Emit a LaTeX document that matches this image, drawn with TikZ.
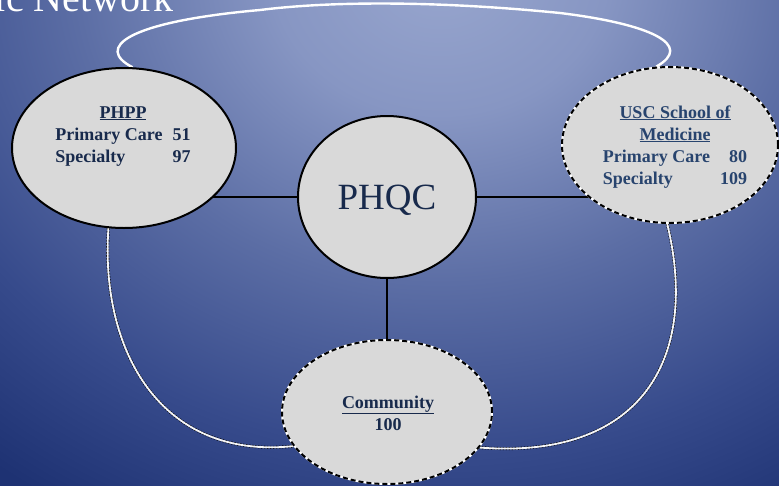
\documentclass[tikz,border=0pt]{standalone}
\usepackage{fontspec}
\setmainfont{Liberation Serif}
\usetikzlibrary{shapes.geometric}
\pgfdeclarelayer{bg}
\pgfdeclarelayer{conn}
\pgfsetlayers{bg,conn,main}
\definecolor{bgA}{RGB}{152,166,206}
\definecolor{bgB}{RGB}{135,150,195}
\definecolor{bgC}{RGB}{92,110,165}
\definecolor{bgD}{RGB}{55,75,140}
\definecolor{bgE}{RGB}{30,50,115}
\definecolor{nodefill}{RGB}{217,217,217}
\definecolor{navy}{RGB}{24,42,76}
\definecolor{slate}{RGB}{40,68,110}
\pgfdeclareradialshading{bgshade}{\pgfpointorigin}{color(0bp)=(bgA); color(4.2bp)=(bgB); color(9.1bp)=(bgC); color(14bp)=(bgD); color(18.2bp)=(bgE); color(50bp)=(bgE)}
\begin{document}
\begin{tikzpicture}[x=1pt,y=-1pt,
  solidell/.style={ellipse, draw=black, line width=2pt, fill=nodefill, inner sep=0pt},
  dashell/.style={ellipse, draw=white, line width=2pt, fill=nodefill, inner sep=0pt,
    postaction={draw=black, line width=2pt, dash pattern=on 5pt off 3pt}},
  lbl/.style={font=\fontsize{18}{22}\selectfont\bfseries, text=navy, inner sep=0pt},
  link/.style={draw=black, line width=1.2pt},
  topline/.style={draw=white, line width=2.4pt},
  lowshadow/.style={draw=black, line width=3pt, dash pattern=on 1.5pt off 1.5pt},
  lowline/.style={draw=white!92!gray, line width=1.8pt}
]
\useasboundingbox (0,0) rectangle (779,485);
\begin{pgfonlayer}{bg}
  \begin{scope}
    \clip (0,0) rectangle (779,485);
    \fill[bgE] (0,0) rectangle (779,485);
    \shade[shading=bgshade] (440,-30) ellipse (1000 and 860);
  \end{scope}
\end{pgfonlayer}

% title (cut off at the top)
\begin{scope}
  \clip (0,0) rectangle (779,485);
  \node[anchor=base east, text=white, inner sep=0pt, font=\fontsize{40}{48}\selectfont] (title) at (174,11) {ic Network};
\end{scope}

% nodes
\node[solidell, minimum width=224pt, minimum height=160pt] (phpp) at (124,148) {};
\node[solidell, minimum width=178pt, minimum height=162pt, text=navy, text depth=0pt,
      font=\fontsize{37}{44}\selectfont] (phqc) at (387,197) {PHQC};
\node[dashell, minimum width=216pt, minimum height=156pt] (usc) at (670,145) {};
\node[dashell, minimum width=210pt, minimum height=144pt] (comm) at (387,412) {};

% labels
\node[lbl, anchor=base] (phppT) at (123,118) {\begin{tabular}[t]{@{}l@{\hspace{10pt}}r@{}}
  \multicolumn{2}{@{}c@{}}{\underline{PHPP}}\\
  Primary Care & 51\\
  Specialty & 97
\end{tabular}};
\node[lbl, text=slate, anchor=base] (uscT) at (675,118) {\begin{tabular}[t]{@{}l@{\hspace{10pt}}r@{}}
  \multicolumn{2}{@{}c@{}}{\underline{USC School of}}\\
  \multicolumn{2}{@{}c@{}}{\underline{Medicine}}\\
  Primary Care & 80\\
  Specialty & 109
\end{tabular}};
\node[lbl, anchor=base] (commT) at (388,408) {\begin{tabular}[t]{@{}c@{}}
  \underline{Community}\\
  100
\end{tabular}};

% connectors
\begin{pgfonlayer}{conn}
  \draw[link] (phqc.west) -- (phqc.west -| phpp.center);
  \draw[link] (phqc.east) -- (phqc.east -| usc.center);
  \draw[link] (phqc.south) -- (comm.north);
  \draw[topline] (phpp.84) .. controls (95,48) and (125,22) .. (260,10)
     .. controls (340,0) and (450,2) .. (560,13)
     .. controls (650,24) and (695,45) .. (usc.100);
  \draw[lowshadow] (phpp.259) .. controls (100,350) and (160,460) .. (comm.200);
  \draw[lowline] (phpp.259) .. controls (100,350) and (160,460) .. (comm.200);
  \draw[lowshadow] (usc.268) .. controls (700,360) and (640,460) .. (comm.339);
  \draw[lowline] (usc.268) .. controls (700,360) and (640,460) .. (comm.339);
\end{pgfonlayer}
\end{tikzpicture}
\end{document}
